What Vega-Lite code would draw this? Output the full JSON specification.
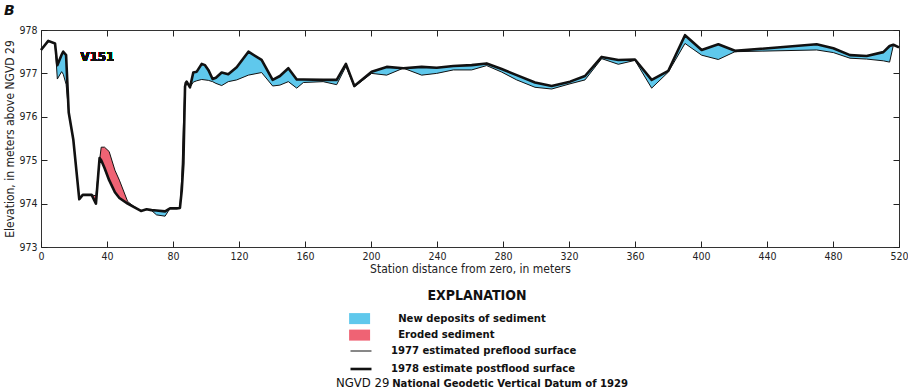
{
  "$schema": "https://vega.github.io/schema/vega-lite/v6.json",
  "width": 858,
  "height": 217,
  "autosize": {"type": "none"},
  "padding": {"left": 41, "top": 30, "right": 9, "bottom": 145},
  "background": "white",
  "config": {"font": "DejaVu Sans Condensed", "view": {"stroke": "#333", "strokeWidth": 1}},
  "title": {"text": "B", "anchor": "start", "frame": "group", "dx": -37, "dy": 12, "offset": 8, "fontSize": 14, "fontStyle": "italic", "fontWeight": "bold", "font": "DejaVu Sans", "baseline": "alphabetic", "color": "#111"},
  "data": {"values": [
    {"x": 0, "pre": 977.54, "post": 977.54, "seg": "A", "kind": "New deposits of sediment"},
    {"x": 4.4, "pre": 977.75, "post": 977.75, "seg": "A", "kind": "New deposits of sediment"},
    {"x": 8.5, "pre": 977.69, "post": 977.69, "seg": "A", "kind": "New deposits of sediment"},
    {"x": 9.9, "pre": 976.87, "post": 977.19, "seg": "A", "kind": "New deposits of sediment"},
    {"x": 12.5, "pre": 977.04, "post": 977.43, "seg": "A", "kind": "New deposits of sediment"},
    {"x": 13.5, "pre": 976.98, "post": 977.5, "seg": "A", "kind": "New deposits of sediment"},
    {"x": 15.2, "pre": 976.75, "post": 977.42, "seg": "A", "kind": "New deposits of sediment"},
    {"x": 16.8, "pre": 976.1, "post": 976.1, "seg": "A", "kind": "New deposits of sediment"},
    {"x": 19.6, "pre": 975.47, "post": 975.47, "seg": "A", "kind": "New deposits of sediment"},
    {"x": 23.2, "pre": 974.1, "post": 974.1, "seg": "A", "kind": "New deposits of sediment"},
    {"x": 25.3, "pre": 974.2, "post": 974.2, "seg": "A", "kind": "New deposits of sediment"},
    {"x": 30.7, "pre": 974.2, "post": 974.2, "seg": "A", "kind": "New deposits of sediment"},
    {"x": 30.7, "pre": 974.2, "post": 974.2, "seg": "B", "kind": "Eroded sediment"},
    {"x": 33.3, "pre": 974.18, "post": 974.0, "seg": "B", "kind": "Eroded sediment"},
    {"x": 35.5, "pre": 975.0, "post": 975.05, "seg": "B", "kind": "Eroded sediment"},
    {"x": 36.5, "pre": 975.3, "post": 975.0, "seg": "B", "kind": "Eroded sediment"},
    {"x": 38.5, "pre": 975.3, "post": 974.82, "seg": "B", "kind": "Eroded sediment"},
    {"x": 41.3, "pre": 975.2, "post": 974.54, "seg": "B", "kind": "Eroded sediment"},
    {"x": 44.8, "pre": 974.77, "post": 974.26, "seg": "B", "kind": "Eroded sediment"},
    {"x": 47.5, "pre": 974.54, "post": 974.13, "seg": "B", "kind": "Eroded sediment"},
    {"x": 52.5, "pre": 974.05, "post": 974.0, "seg": "B", "kind": "Eroded sediment"},
    {"x": 55, "pre": 973.97, "post": 973.95, "seg": "B", "kind": "Eroded sediment"},
    {"x": 60.6, "pre": 973.83, "post": 973.83, "seg": "B", "kind": "Eroded sediment"},
    {"x": 60.6, "pre": 973.83, "post": 973.83, "seg": "C", "kind": "New deposits of sediment"},
    {"x": 64, "pre": 973.87, "post": 973.87, "seg": "C", "kind": "New deposits of sediment"},
    {"x": 67, "pre": 973.84, "post": 973.85, "seg": "C", "kind": "New deposits of sediment"},
    {"x": 70, "pre": 973.74, "post": 973.84, "seg": "C", "kind": "New deposits of sediment"},
    {"x": 75.2, "pre": 973.71, "post": 973.82, "seg": "C", "kind": "New deposits of sediment"},
    {"x": 78.2, "pre": 973.89, "post": 973.89, "seg": "C", "kind": "New deposits of sediment"},
    {"x": 82.2, "pre": 973.89, "post": 973.89, "seg": "C", "kind": "New deposits of sediment"},
    {"x": 84.2, "pre": 973.9, "post": 973.9, "seg": "C", "kind": "New deposits of sediment"},
    {"x": 84.2, "pre": 973.9, "post": 973.9, "seg": "D", "kind": "Eroded sediment"},
    {"x": 85.3, "pre": 974.6, "post": 974.3, "seg": "D", "kind": "Eroded sediment"},
    {"x": 86.3, "pre": 975.8, "post": 974.93, "seg": "D", "kind": "Eroded sediment"},
    {"x": 87.3, "pre": 976.8, "post": 976.7, "seg": "D", "kind": "Eroded sediment"},
    {"x": 88.3, "pre": 976.81, "post": 976.81, "seg": "D", "kind": "Eroded sediment"},
    {"x": 88.3, "pre": 976.81, "post": 976.81, "seg": "E", "kind": "New deposits of sediment"},
    {"x": 90.3, "pre": 976.68, "post": 976.68, "seg": "E", "kind": "New deposits of sediment"},
    {"x": 92.3, "pre": 976.8, "post": 977.02, "seg": "E", "kind": "New deposits of sediment"},
    {"x": 94.4, "pre": 976.83, "post": 977.04, "seg": "E", "kind": "New deposits of sediment"},
    {"x": 97.4, "pre": 976.86, "post": 977.22, "seg": "E", "kind": "New deposits of sediment"},
    {"x": 99.4, "pre": 976.85, "post": 977.19, "seg": "E", "kind": "New deposits of sediment"},
    {"x": 101.4, "pre": 976.84, "post": 977.08, "seg": "E", "kind": "New deposits of sediment"},
    {"x": 104.0, "pre": 976.81, "post": 976.87, "seg": "E", "kind": "New deposits of sediment"},
    {"x": 106.0, "pre": 976.77, "post": 976.9, "seg": "E", "kind": "New deposits of sediment"},
    {"x": 109.5, "pre": 976.72, "post": 977.02, "seg": "E", "kind": "New deposits of sediment"},
    {"x": 113.5, "pre": 976.81, "post": 976.98, "seg": "E", "kind": "New deposits of sediment"},
    {"x": 118.6, "pre": 976.85, "post": 977.14, "seg": "E", "kind": "New deposits of sediment"},
    {"x": 125.7, "pre": 976.96, "post": 977.5, "seg": "E", "kind": "New deposits of sediment"},
    {"x": 133.7, "pre": 977.02, "post": 977.31, "seg": "E", "kind": "New deposits of sediment"},
    {"x": 140.4, "pre": 976.71, "post": 976.85, "seg": "E", "kind": "New deposits of sediment"},
    {"x": 144.8, "pre": 976.73, "post": 976.94, "seg": "E", "kind": "New deposits of sediment"},
    {"x": 149.9, "pre": 976.81, "post": 977.12, "seg": "E", "kind": "New deposits of sediment"},
    {"x": 155, "pre": 976.66, "post": 976.86, "seg": "E", "kind": "New deposits of sediment"},
    {"x": 159, "pre": 976.79, "post": 976.86, "seg": "E", "kind": "New deposits of sediment"},
    {"x": 171, "pre": 976.81, "post": 976.85, "seg": "E", "kind": "New deposits of sediment"},
    {"x": 179.2, "pre": 976.74, "post": 976.85, "seg": "E", "kind": "New deposits of sediment"},
    {"x": 184.8, "pre": 977.16, "post": 977.22, "seg": "E", "kind": "New deposits of sediment"},
    {"x": 189.9, "pre": 976.69, "post": 976.71, "seg": "E", "kind": "New deposits of sediment"},
    {"x": 200.4, "pre": 977.0, "post": 977.04, "seg": "E", "kind": "New deposits of sediment"},
    {"x": 209.5, "pre": 976.96, "post": 977.15, "seg": "E", "kind": "New deposits of sediment"},
    {"x": 219.6, "pre": 977.12, "post": 977.12, "seg": "E", "kind": "New deposits of sediment"},
    {"x": 230.7, "pre": 976.96, "post": 977.15, "seg": "E", "kind": "New deposits of sediment"},
    {"x": 239.8, "pre": 977.0, "post": 977.13, "seg": "E", "kind": "New deposits of sediment"},
    {"x": 249.9, "pre": 977.08, "post": 977.17, "seg": "E", "kind": "New deposits of sediment"},
    {"x": 261, "pre": 977.08, "post": 977.19, "seg": "E", "kind": "New deposits of sediment"},
    {"x": 270.1, "pre": 977.18, "post": 977.23, "seg": "E", "kind": "New deposits of sediment"},
    {"x": 279.2, "pre": 977.03, "post": 977.1, "seg": "E", "kind": "New deposits of sediment"},
    {"x": 288.3, "pre": 976.85, "post": 976.96, "seg": "E", "kind": "New deposits of sediment"},
    {"x": 299.4, "pre": 976.68, "post": 976.79, "seg": "E", "kind": "New deposits of sediment"},
    {"x": 309.5, "pre": 976.64, "post": 976.71, "seg": "E", "kind": "New deposits of sediment"},
    {"x": 320.6, "pre": 976.76, "post": 976.81, "seg": "E", "kind": "New deposits of sediment"},
    {"x": 329.7, "pre": 976.85, "post": 976.94, "seg": "E", "kind": "New deposits of sediment"},
    {"x": 339.8, "pre": 977.34, "post": 977.38, "seg": "E", "kind": "New deposits of sediment"},
    {"x": 349.9, "pre": 977.21, "post": 977.31, "seg": "E", "kind": "New deposits of sediment"},
    {"x": 360, "pre": 977.3, "post": 977.32, "seg": "E", "kind": "New deposits of sediment"},
    {"x": 370.1, "pre": 976.66, "post": 976.85, "seg": "E", "kind": "New deposits of sediment"},
    {"x": 380.2, "pre": 977.03, "post": 977.06, "seg": "E", "kind": "New deposits of sediment"},
    {"x": 390.3, "pre": 977.69, "post": 977.88, "seg": "E", "kind": "New deposits of sediment"},
    {"x": 400.4, "pre": 977.42, "post": 977.54, "seg": "E", "kind": "New deposits of sediment"},
    {"x": 410.5, "pre": 977.32, "post": 977.67, "seg": "E", "kind": "New deposits of sediment"},
    {"x": 420.6, "pre": 977.5, "post": 977.52, "seg": "E", "kind": "New deposits of sediment"},
    {"x": 470.1, "pre": 977.54, "post": 977.67, "seg": "E", "kind": "New deposits of sediment"},
    {"x": 480.2, "pre": 977.48, "post": 977.58, "seg": "E", "kind": "New deposits of sediment"},
    {"x": 490.3, "pre": 977.35, "post": 977.42, "seg": "E", "kind": "New deposits of sediment"},
    {"x": 500.4, "pre": 977.33, "post": 977.4, "seg": "E", "kind": "New deposits of sediment"},
    {"x": 510.5, "pre": 977.29, "post": 977.49, "seg": "E", "kind": "New deposits of sediment"},
    {"x": 514.3, "pre": 977.26, "post": 977.63, "seg": "E", "kind": "New deposits of sediment"},
    {"x": 516.6, "pre": 977.65, "post": 977.66, "seg": "E", "kind": "New deposits of sediment"},
    {"x": 520, "pre": 977.6, "post": 977.6, "seg": "E", "kind": "New deposits of sediment"}
  ]},
  "layer": [
    {
      "mark": {"type": "area", "interpolate": "linear", "opacity": 1},
      "encoding": {
        "x": {"field": "x", "type": "quantitative", "scale": {"domain": [0, 520], "nice": false, "zero": false},
          "axis": {"orient": "bottom", "values": [0, 40, 80, 120, 160, 200, 240, 280, 320, 360, 400, 440, 480, 520], "tickSize": -6, "tickColor": "#222", "labelPadding": 10, "labelFontSize": 10.5, "labelColor": "#222", "labelFlush": false, "labelOverlap": false, "domain": false, "grid": false, "title": "Station distance from zero, in meters", "titleFontSize": 12, "titleFontWeight": "normal", "titleColor": "#222", "titlePadding": 2}},
        "y": {"field": "pre", "type": "quantitative", "scale": {"domain": [973, 978], "nice": false, "zero": false},
          "axis": {"orient": "left", "values": [973, 974, 975, 976, 977, 978], "tickSize": -6, "tickColor": "#222", "labelPadding": 10, "labelFontSize": 10.5, "labelColor": "#222", "domain": false, "grid": false, "title": "Elevation, in meters above NGVD 29", "titleFontSize": 12, "titleFontWeight": "normal", "titleColor": "#222", "titlePadding": 2}},
        "y2": {"field": "post"},
        "color": {"field": "kind", "type": "nominal",
          "scale": {"domain": ["New deposits of sediment", "Eroded sediment"], "range": ["#5FC8EC", "#EF6374"]},
          "legend": {"orient": "none", "legendX": 307, "legendY": 259, "direction": "vertical", "padding": 0, "title": "EXPLANATION", "titleFontSize": 14, "titleFontWeight": "bold", "titleColor": "#111", "titleAnchor": "middle", "titleAlign": "center", "titlePadding": 10, "symbolType": "M-2,-1.05H2V1.05H-2Z", "symbolSize": 110, "symbolStrokeWidth": 0, "symbolOpacity": 1, "symbolOffset": 6, "labelFontSize": 11.2, "labelFontWeight": "bold", "labelColor": "#111", "labelOffset": 33, "labelLimit": 0, "rowPadding": 3.5,
            "encode": {"title": {"update": {"dx": {"value": 30}}}}}},
        "detail": {"field": "seg"}
      }
    },
    {
      "transform": [{"fold": ["pre", "post"], "as": ["surface", "elev"]}],
      "mark": {"type": "line", "color": "#111", "strokeJoin": "round"},
      "encoding": {
        "x": {"field": "x", "type": "quantitative", "axis": {"orient": "top", "values": [0, 40, 80, 120, 160, 200, 240, 280, 320, 360, 400, 440, 480, 520], "labels": false, "tickSize": -6, "tickColor": "#222", "domain": false, "grid": false, "title": null}},
        "y": {"field": "elev", "type": "quantitative", "axis": {"orient": "right", "values": [973, 974, 975, 976, 977, 978], "labels": false, "tickSize": -6, "tickColor": "#222", "domain": false, "grid": false, "title": null}},
        "strokeWidth": {"field": "surface", "type": "ordinal",
          "scale": {"domain": ["pre", "post"], "range": [1, 2.6]},
          "legend": {"orient": "none", "legendX": 313, "legendY": 315, "direction": "vertical", "padding": 0, "title": null, "symbolType": "M-2,0H2", "symbolSize": 110, "symbolStrokeColor": "#111", "labelFontSize": 11.2, "labelFontWeight": "bold", "labelColor": "#111", "labelOffset": 23, "labelLimit": 0, "rowPadding": 5,
            "labelExpr": "datum.label == 'pre' ? '1977 estimated preflood surface' : '1978 estimate postflood surface'"}},
        "opacity": {"datum": "National Geodetic Vertical Datum of 1929", "type": "ordinal", "scale": {"range": [1]},
          "legend": {"orient": "none", "legendX": 295, "legendY": 348, "padding": 0, "title": "NGVD 29", "titleOrient": "left", "titleFontSize": 13, "titleFontWeight": "normal", "titleColor": "#111", "titlePadding": 7, "symbolOpacity": 0, "symbolStrokeWidth": 0, "symbolSize": 0, "labelFontSize": 11.2, "labelFontWeight": "bold", "labelColor": "#111", "labelOffset": -16, "labelLimit": 0}}
      }
    },
    {
      "mark": {"type": "text", "align": "left", "baseline": "middle", "fontSize": 13, "fontWeight": "bold", "font": "DejaVu Sans Condensed", "fill": "#111"},
      "encoding": {
        "x": {"datum": 24, "type": "quantitative", "axis": null},
        "y": {"datum": 977.38, "type": "quantitative", "axis": null},
        "text": {"value": "V151"}
      }
    }
  ],
  "resolve": {"axis": {"x": "independent", "y": "independent"}}
}
